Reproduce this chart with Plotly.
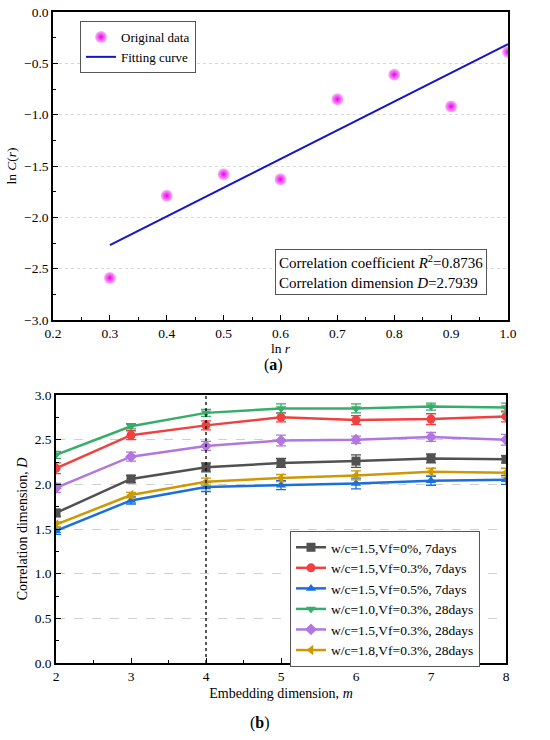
import plotly.graph_objects as go

# (a) ln C(r) vs ln r
ln_r = [0.3, 0.4, 0.5, 0.6, 0.7, 0.8, 0.9, 1.0]
ln_c = [-2.59, -1.79, -1.58, -1.63, -0.85, -0.61, -0.92, -0.39]
fit_x = [0.3, 1.0]
fit_slope = 2.7939
fit_icpt = -3.108

# (b) correlation dimension vs embedding dimension
emb_m = [2, 3, 4, 5, 6, 7, 8]
series_names = [
    "w/c=1.5,Vf=0%, 7days",
    "w/c=1.5,Vf=0.3%, 7days",
    "w/c=1.5,Vf=0.5%, 7days",
    "w/c=1.0,Vf=0.3%, 28days",
    "w/c=1.5,Vf=0.3%, 28days",
    "w/c=1.8,Vf=0.3%, 28days",
]
d_black = [1.68, 2.06, 2.19, 2.24, 2.26, 2.29, 2.28]
d_red = [2.18, 2.55, 2.66, 2.75, 2.72, 2.73, 2.76]
d_blue = [1.48, 1.82, 1.97, 1.99, 2.01, 2.04, 2.05]
d_green = [2.33, 2.65, 2.80, 2.85, 2.85, 2.87, 2.86]
d_purple = [1.96, 2.31, 2.43, 2.49, 2.50, 2.53, 2.50]
d_gold = [1.55, 1.88, 2.03, 2.07, 2.10, 2.14, 2.13]
err_black = [0.04, 0.04, 0.05, 0.05, 0.07, 0.05, 0.04]
err_red = [0.06, 0.05, 0.05, 0.05, 0.05, 0.06, 0.06]
err_blue = [0.04, 0.04, 0.05, 0.05, 0.06, 0.05, 0.05]
err_green = [0.04, 0.03, 0.04, 0.05, 0.05, 0.04, 0.05]
err_purple = [0.05, 0.05, 0.05, 0.06, 0.04, 0.05, 0.06]
err_gold = [0.03, 0.03, 0.04, 0.04, 0.05, 0.04, 0.05]

series = [d_black, d_red, d_blue, d_green, d_purple, d_gold]
errors = [err_black, err_red, err_blue, err_green, err_purple, err_gold]
colors = ["#515151", "#F14040", "#1A6FDF", "#37AD6B", "#B177DE", "#CC9900"]
symbols = ["square", "circle", "triangle-up", "triangle-down", "diamond", "triangle-left"]

FONT = "Liberation Serif, Times New Roman, serif"

# full-window figure; body margin is removed in the page (post_script below)
W, H = 550, 740


def px_x(v):
    return v / W


def px_y(v):
    return 1 - v / H


fig = go.Figure()

fig.add_trace(go.Scatter(
    x=ln_r, y=ln_c, mode="markers", name="Original data",
    marker=dict(size=12, color="#ffb8ff",
                gradient=dict(type="radial", color="#e600e6")),
    xaxis="x", yaxis="y", legend="legend",
))
fig.add_trace(go.Scatter(
    x=fit_x, y=[fit_slope * v + fit_icpt for v in fit_x],
    mode="lines", name="Fitting curve",
    line=dict(color="#1515c8", width=2),
    xaxis="x", yaxis="y", legend="legend",
))

for name, ys, es, c, s in zip(series_names, series, errors, colors, symbols):
    fig.add_trace(go.Scatter(
        x=emb_m, y=ys, mode="lines+markers", name=name,
        line=dict(color=c, width=2.5),
        marker=dict(symbol=s, size=9, color=c),
        error_y=dict(type="data", array=es, color=c, thickness=1.3, width=5),
        xaxis="x2", yaxis="y2", legend="legend2",
    ))

# dashed reference line at m = 4
fig.add_shape(type="line", x0=4, x1=4, y0=0, y1=3, xref="x2", yref="y2",
              line=dict(color="black", width=1.3, dash="dot"))

axis_common = dict(
    showline=True, linecolor="black", linewidth=1.5, mirror=True,
    ticks="inside", ticklen=5, tickwidth=1.2, tickcolor="black",
    tickfont=dict(family=FONT, size=13.5, color="black"),
    zeroline=False, automargin=False, ticklabeloverflow="allow",
)

fig.update_layout(
    template="none",
    width=W, height=H,
    margin=dict(l=0, r=0, t=0, b=0, autoexpand=False),
    paper_bgcolor="white", plot_bgcolor="white",
    font=dict(family=FONT, size=13, color="black"),
    showlegend=True,
    xaxis=dict(axis_common, domain=[px_x(53), px_x(508)], range=[0.2, 1.0], dtick=0.1,
               tickformat=".1f", showgrid=False,
               minor=dict(ticks="inside", ticklen=3, dtick=0.05, tickcolor="black"),
               title=dict(text="ln <i>r</i>", font=dict(family=FONT, size=13.5), standoff=0),
               anchor="y"),
    yaxis=dict(axis_common, domain=[px_y(320), px_y(12)], range=[-3.0, 0.0], dtick=0.5,
               tickformat=".1f", showgrid=True, gridcolor="#d9d9d9", griddash="dot",
               gridwidth=1,
               minor=dict(ticks="inside", ticklen=3, dtick=0.25, tickcolor="black"),
               title=dict(text="ln <i>C</i>(<i>r</i>)", font=dict(family=FONT, size=13.5), standoff=4),
               anchor="x"),
    xaxis2=dict(axis_common, domain=[px_x(56), px_x(506)], range=[2, 8], dtick=1,
                showgrid=False,
                minor=dict(ticks="inside", ticklen=3, dtick=0.5, tickcolor="black"),
                title=dict(text="Embedding dimension, <i>m</i>", font=dict(family=FONT, size=14), standoff=5),
                anchor="y2"),
    yaxis2=dict(axis_common, domain=[px_y(663), px_y(395)], range=[0, 3.0], dtick=0.5,
                tickformat=".1f", showgrid=True, gridcolor="#d0d0d0", griddash="dash",
                gridwidth=1,
                minor=dict(ticks="inside", ticklen=3, dtick=0.25, tickcolor="black"),
                title=dict(text="Correlation dimension, <i>D</i>", font=dict(family=FONT, size=14), standoff=4),
                anchor="x2"),
    legend=dict(x=px_x(80), y=px_y(21), xanchor="left", yanchor="top",
                bordercolor="#555555", borderwidth=1, bgcolor="white",
                font=dict(family=FONT, size=13), tracegroupgap=0,
                itemwidth=30),
    legend2=dict(x=px_x(290), y=px_y(531), xanchor="left", yanchor="top",
                 bordercolor="#555555", borderwidth=1, bgcolor="white",
                 font=dict(family=FONT, size=13.5), tracegroupgap=0,
                 itemwidth=30),
)

fig.add_annotation(
    xref="paper", yref="paper", x=px_x(275), y=px_y(295), xanchor="left", yanchor="bottom",
    text="Correlation coefficient <i>R</i><sup>2</sup>=0.8736<br>Correlation dimension <i>D</i>=2.7939",
    showarrow=False, align="left", font=dict(family=FONT, size=15),
    bordercolor="#555555", borderwidth=1, borderpad=3, bgcolor="white",
)

fig.add_annotation(xref="paper", yref="paper", x=px_x(273), y=px_y(365),
                   xanchor="center", yanchor="middle",
                   text="(<b>a</b>)", showarrow=False,
                   font=dict(family=FONT, size=16))
fig.add_annotation(xref="paper", yref="paper", x=px_x(260), y=px_y(723),
                   xanchor="center", yanchor="middle",
                   text="(<b>b</b>)", showarrow=False,
                   font=dict(family=FONT, size=16))

fig.write_html("out.html", config={"displayModeBar": False},
               post_script="document.body.style.margin = '0';")
